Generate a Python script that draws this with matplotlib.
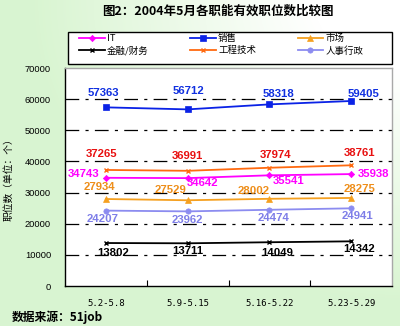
import numpy as np
import matplotlib
matplotlib.use("Agg")
import matplotlib.pyplot as plt
from matplotlib.patches import Rectangle

plt.rcParams['font.family'] = ['Noto Sans CJK SC', 'DejaVu Sans']

# data
weeks = ['5.2-5.8', '5.9-5.15', '5.16-5.22', '5.23-5.29']
it_vals = [34743, 34642, 35541, 35938]
sales_vals = [57363, 56712, 58318, 59405]
market_vals = [27934, 27529, 28002, 28275]
finance_vals = [13802, 13711, 14049, 14342]
eng_vals = [37265, 36991, 37974, 38761]
hr_vals = [24207, 23962, 24474, 24941]

# series styling: name, values, line colour, label colour, marker, marker size, label offsets (px)
series = [
    ('IT', it_vals, '#FF00FF', '#FF00FF', 'D', 3.2,
     [(-22, 4), (15, -5), (19, -6), (22, 0)]),
    ('金融/财务', finance_vals, '#000000', '#000000', 'x', 3.2,
     [(7, -10), (0, -8), (8, -11), (8, -8)]),
    ('销售', sales_vals, '#0A22E6', '#1030E0', 's', 4.2,
     [(-3, 14), (1, 18), (9, 10), (12, 7)]),
    ('工程技术', eng_vals, '#FF6A10', '#E81010', 'x', 3.2,
     [(-4, 16), (0, 15), (6, 13), (8, 12)]),
    ('市场', market_vals, '#F5A020', '#EE8E1A', '^', 4.6,
     [(-6, 12), (-17, 10), (-16, 8), (8, 9)]),
    ('人事行政', hr_vals, '#8C8CF0', '#7E7EE8', 'o', 3.8,
     [(-3, -8), (0, -9), (4, -8), (6, -8)]),
]

fig = plt.figure(figsize=(4.0, 3.26), dpi=100)

# pale green background, fading to white towards the top right
bg = fig.add_axes([0, 0, 1, 1], zorder=-10)
yy, xx = np.mgrid[0:1:326j, 0:1:400j]
d = np.sqrt((1 - xx) ** 2 + yy ** 2) / np.sqrt(2)
g = np.clip((d - 0.15) / 0.5, 0, 1)[..., None]
green = np.array([0.85, 0.96, 0.82])
img = (1 - g) * np.ones(3) + g * green
bg.imshow(img, aspect='auto', extent=[0, 1, 0, 1])
bg.axis('off')

ax = fig.add_axes([65 / 400, 1 - 286 / 326, 327 / 400, 218 / 326])
ax.set_facecolor('white')
x = np.arange(len(weeks))

handles = {}
for name, vals, lc, tc, mk, ms, offs in series:
    ln, = ax.plot(x, vals, color=lc, lw=1.3, marker=mk, markersize=ms,
                  markeredgewidth=1.0 if mk == 'x' else 0.5, label=name, zorder=3)
    handles[name] = ln
    for xi, v, (dx, dy) in zip(x, vals, offs):
        ax.annotate(str(v), (xi, v), xytext=(dx, dy), textcoords='offset pixels',
                    ha='center', va='center', color=tc, fontsize=8.2,
                    fontweight='bold', family=['Liberation Sans'], zorder=4)

ax.set_xlim(-0.5, 3.5)
ax.set_ylim(0, 70000)
ax.set_yticks(range(0, 70001, 10000))
ax.set_yticklabels([str(v) for v in range(0, 70001, 10000)],
                   family=['Liberation Sans'], fontsize=6.7)
ax.tick_params(axis='y', length=0, pad=10)
ax.set_xticks(x)
ax.set_xticklabels(weeks, family=['DejaVu Sans Mono'], fontsize=6.5)
ax.set_xticks([0.5, 1.5, 2.5], minor=True)
ax.tick_params(axis='x', which='major', length=0, pad=9)
ax.tick_params(axis='x', which='minor', direction='in', length=4, width=0.8)

for yv in range(10000, 70000, 10000):
    ax.axhline(yv, color='black', lw=0.9, ls=(0, (11, 5, 2.5, 5)), zorder=1)

ax.spines['left'].set_color('black')
ax.spines['bottom'].set_color('black')
ax.spines['top'].set_color('#a8a8a8')
ax.spines['right'].set_color('#a8a8a8')
for s in ax.spines.values():
    s.set_linewidth(1.0)

ax.set_ylabel('职位数（单位：个）', fontsize=7)
ax.yaxis.set_label_coords(-(65 - 14) / 327, 0.5)

# legend box
fig.patches.append(Rectangle((68 / 400, 1 - 64 / 326), 324 / 400, 32 / 326,
                             transform=fig.transFigure, facecolor='white',
                             edgecolor='black', lw=1.0, zorder=1))
order = ['IT', '金融/财务', '销售', '工程技术', '市场', '人事行政']
leg = fig.legend([handles[n] for n in order], order, ncol=3, loc='upper left',
                 bbox_to_anchor=(79 / 400, 1 - 34 / 326), frameon=False,
                 fontsize=6.8, handlelength=2.7, handletextpad=0.25,
                 columnspacing=4.4, labelspacing=0.3, borderpad=0,
                 borderaxespad=0)
leg.set_zorder(2)

fig.text(218 / 400, 1 - 11 / 326, '图2：2004年5月各职能有效职位数比较图',
         ha='center', va='center', fontsize=9, fontweight='bold')
fig.text(12 / 400, 1 - 317 / 326, '数据来源：51job', ha='left', va='center',
         fontsize=8.5, fontweight='bold')

fig.savefig('out.png', dpi=100)
